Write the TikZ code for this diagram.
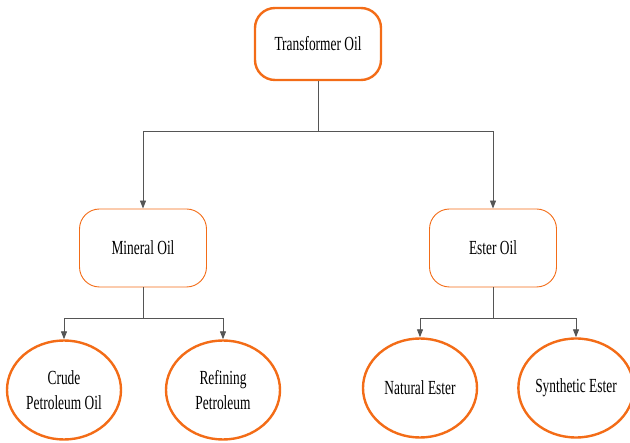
\documentclass[tikz,border=0pt]{standalone}
\usepackage{fontspec}
\setmainfont{Liberation Serif}[FakeStretch=0.67]
\usetikzlibrary{arrows.meta,shapes.geometric}
\definecolor{orng}{HTML}{F36C17}
\definecolor{lin}{HTML}{555555}
\begin{document}
\begin{tikzpicture}[x=1pt,y=-1pt,
  txt/.style={font=\fontsize{20}{25}\selectfont,align=center,text=black},
  topbox/.style={txt,draw=orng,line width=2.4pt,rounded corners=20pt,minimum width=126pt,minimum height=72pt,inner sep=0pt},
  midbox/.style={txt,draw=orng,line width=0.9pt,rounded corners=20pt,minimum width=127pt,minimum height=78pt,inner sep=0pt},
  leaf/.style={txt,ellipse,draw=orng,line width=2.4pt,minimum width=114pt,minimum height=99pt,inner sep=0pt},
  conn/.style={draw=lin,line width=0.9pt},
  arr/.style={conn,-{Triangle[length=8pt,width=6pt]}}]
\useasboundingbox (0,0) rectangle (630,443);
\node[topbox] (top) at (318,44) {Transformer Oil};
\node[midbox] (min) at (143,248) {Mineral Oil};
\node[midbox] (est) at (493,248) {Ester Oil};
\node[leaf] (crude) at (64,390) {Crude\\Petroleum Oil};
\node[leaf] (ref) at (223,390) {Refining\\Petroleum};
\node[leaf] (nat) at (420,388) {Natural Ester};
\node[leaf] (syn) at (576,388) {Synthetic Ester};
\coordinate (j1) at (318,131);
\coordinate (j2) at (143,318);
\coordinate (j3) at (493,318);
\draw[conn] (top.south) -- (j1);
\draw[arr] (j1) -| (min.north);
\draw[arr] (j1) -| (est.north);
\draw[conn] (min.south) -- (j2);
\draw[arr] (j2) -| (crude.north);
\draw[arr] (j2) -| (ref.north);
\draw[conn] (est.south) -- (j3);
\draw[arr] (j3) -| (nat.north);
\draw[arr] (j3) -| (syn.north);
\end{tikzpicture}
\end{document}
